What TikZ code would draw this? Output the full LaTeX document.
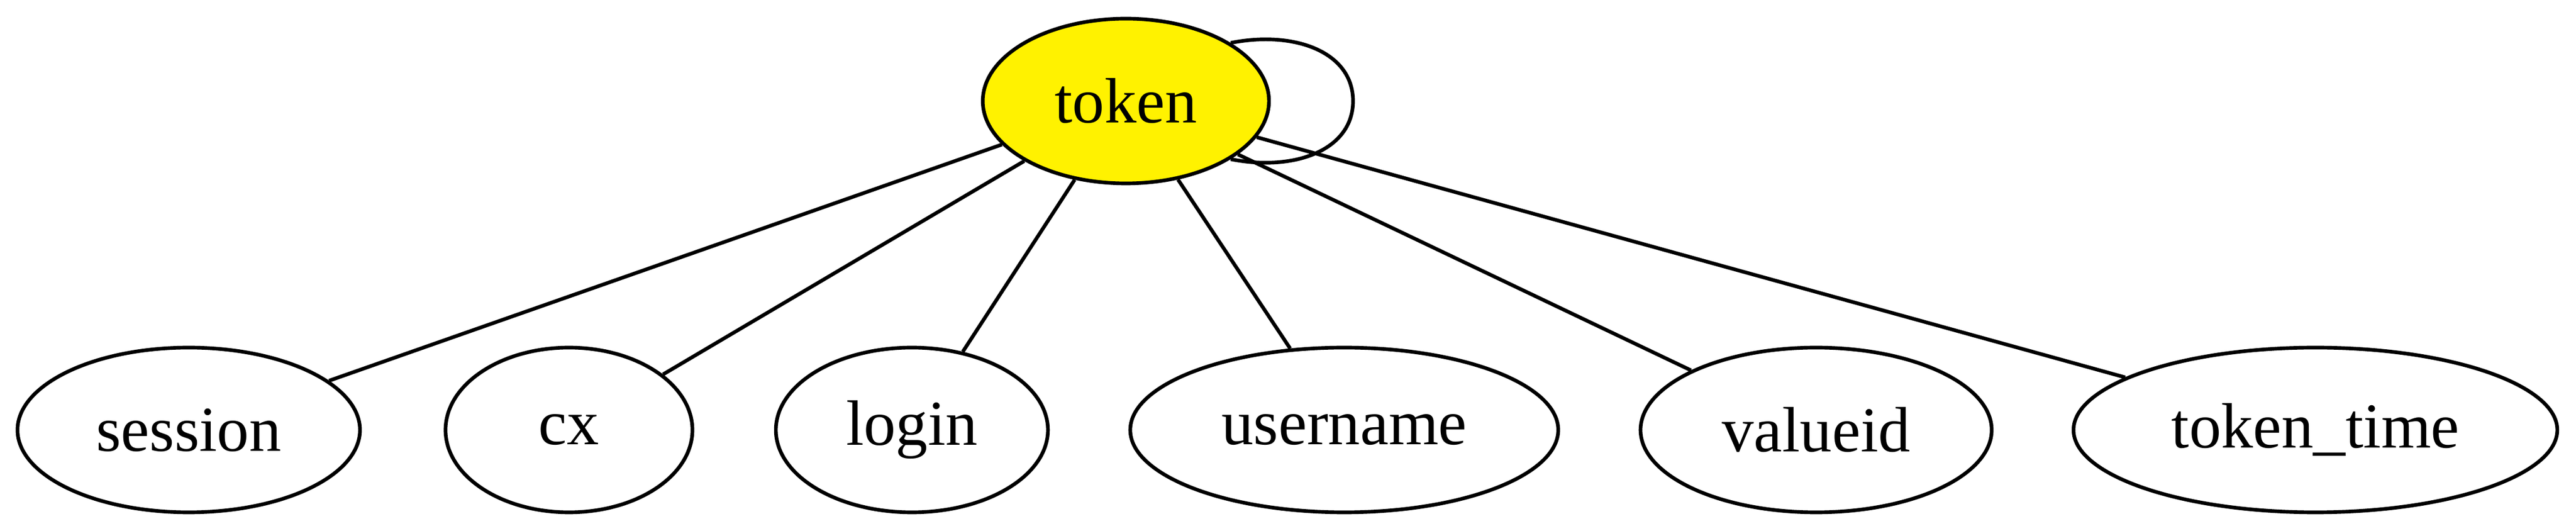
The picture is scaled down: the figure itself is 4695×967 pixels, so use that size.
\documentclass[tikz,border=0pt]{standalone}
\usepackage{fontspec}
\setmainfont{Liberation Serif}
\usetikzlibrary{shapes.geometric}
\begin{document}
\begin{tikzpicture}[x=0.12pt,y=-0.12pt,
  nd/.style={draw,ellipse,line width=0.8pt,inner sep=0pt,minimum height=36pt,font=\fontsize{14}{16}\selectfont},
  ln/.style={line width=0.8pt}]
\useasboundingbox (0,0) rectangle (4695,967);
\node[nd,fill=yellow,minimum width=62.6pt] (token) at (2052,184) {token};
\node[nd,minimum width=74.9pt] (session) at (344,783) {session};
\node[nd,minimum width=54pt] (cx) at (1037,783) {cx};
\node[nd,minimum width=59.5pt] (login) at (1662,783) {login};
\node[nd,minimum width=93.6pt] (username) at (2450,783) {username};
\node[nd,minimum width=76.8pt] (valueid) at (3310,783) {valueid};
\node[nd,minimum width=105.8pt] (tokentime) at (4220,783) {token\_time};
\draw[ln] (token) -- (session);
\draw[ln] (token) -- (cx);
\draw[ln] (token) -- (login);
\draw[ln] (token) -- (username);
\draw[ln] (token) -- (valueid);
\draw[ln] (token) -- (tokentime);
\coordinate (lp) at (2466,184);
\draw[ln] (token.29) .. controls (2360,55) and (2466,95) .. (lp) .. controls (2466,273) and (2360,313) .. (token.-29);
\end{tikzpicture}
\end{document}
